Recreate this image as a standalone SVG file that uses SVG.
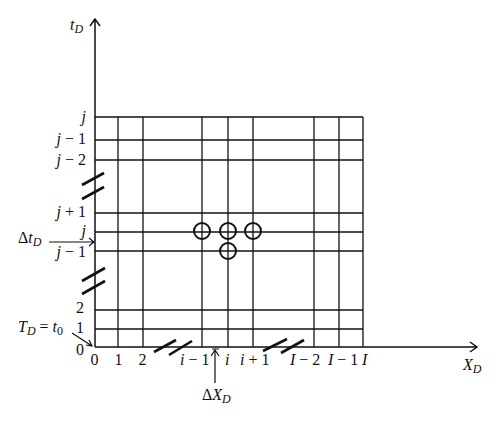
<svg xmlns="http://www.w3.org/2000/svg" width="500" height="423" viewBox="0 0 500 423">
<style>
text{font-family:"Liberation Serif","Times New Roman",serif;font-size:16px;fill:#111}
.it{font-style:italic}
.sub{font-size:12px;font-style:italic}
.grid line{stroke:#111;stroke-width:1.3}
.ax{stroke:#111;stroke-width:1.5;fill:none}
.brk line{stroke:#111;stroke-width:2.6}
.pt circle{fill:none;stroke:#111;stroke-width:2}
.arr{stroke:#111;stroke-width:1.2;fill:none}
</style>
<rect width="500" height="423" fill="#fff"/>
<g id="grid" class="grid">
<line x1="95" y1="117" x2="363" y2="117"/>
<line x1="95" y1="140" x2="363" y2="140"/>
<line x1="95" y1="160" x2="363" y2="160"/>
<line x1="95" y1="213" x2="363" y2="213"/>
<line x1="95" y1="232" x2="363" y2="232"/>
<line x1="95" y1="251" x2="363" y2="251"/>
<line x1="95" y1="310" x2="363" y2="310"/>
<line x1="95" y1="329" x2="363" y2="329"/>
<line x1="118" y1="117" x2="118" y2="347"/>
<line x1="143" y1="117" x2="143" y2="347"/>
<line x1="202" y1="117" x2="202" y2="347"/>
<line x1="228" y1="117" x2="228" y2="347"/>
<line x1="253" y1="117" x2="253" y2="347"/>
<line x1="314" y1="117" x2="314" y2="347"/>
<line x1="339" y1="117" x2="339" y2="347"/>
<line x1="363" y1="117" x2="363" y2="347"/>
</g>
<g id="axes">
<path class="ax" d="M95,347 V19 M90,26 L95,19 L100,26"/>
<path class="ax" d="M95,347 H477 M470,342 L477,347 L470,352"/>
</g>
<g id="breaks" class="brk">
<line x1="82" y1="185" x2="104" y2="173"/>
<line x1="82" y1="199" x2="104" y2="187"/>
<line x1="82" y1="281" x2="105" y2="268"/>
<line x1="82" y1="294" x2="105" y2="281"/>
<line x1="154" y1="352" x2="176" y2="340"/>
<line x1="169" y1="355" x2="192" y2="341"/>
<line x1="263" y1="351" x2="287" y2="339"/>
<line x1="281" y1="353" x2="304" y2="340"/>
</g>
<g id="points" class="pt">
<circle cx="202" cy="231" r="8"/>
<circle cx="228" cy="231" r="8"/>
<circle cx="253" cy="231" r="8"/>
<circle cx="228" cy="251" r="8"/>
</g>
<g id="connectors">
<path class="arr" d="M49,242 H94 M89,238 L94,242 L89,246"/>
<path class="arr" d="M72,333 L92,346 M86,345 L92,346 L89,340"/>
<path class="arr" d="M215,383 V350 M211,356 L215,350 L219,356 M212,349 H219"/>
</g>
<g id="labels">
<text x="70" y="30"><tspan class="it">t</tspan><tspan class="sub" dy="3">D</tspan></text>
<text x="463" y="370"><tspan class="it">X</tspan><tspan class="sub" dy="3">D</tspan></text>
<text x="86" y="122" text-anchor="end" class="it">j</text>
<text x="86" y="144" text-anchor="end"><tspan class="it">j</tspan> − 1</text>
<text x="86" y="165" text-anchor="end"><tspan class="it">j</tspan> − 2</text>
<text x="86" y="217" text-anchor="end"><tspan class="it">j</tspan> + 1</text>
<text x="86" y="236" text-anchor="end" class="it">j</text>
<text x="86" y="257" text-anchor="end"><tspan class="it">j</tspan> − 1</text>
<text x="18" y="243">Δ<tspan class="it">t</tspan><tspan class="sub" dy="3">D</tspan></text>
<text x="84" y="313" text-anchor="end">2</text>
<text x="84" y="333" text-anchor="end">1</text>
<text x="84" y="355" text-anchor="end">0</text>
<text x="18" y="332"><tspan class="it">T</tspan><tspan class="sub" dy="3">D</tspan><tspan dy="-3"> = </tspan><tspan class="it">t</tspan><tspan style="font-size:12px" dy="3">0</tspan></text>
<text x="94.5" y="365" text-anchor="middle">0</text>
<text x="118.5" y="365" text-anchor="middle">1</text>
<text x="142.5" y="365" text-anchor="middle">2</text>
<text x="180" y="365"><tspan class="it">i</tspan> − 1</text>
<text x="225" y="365" class="it">i</text>
<text x="240" y="365"><tspan class="it">i</tspan> + 1</text>
<text x="290" y="365"><tspan class="it">I</tspan> − 2</text>
<text x="328" y="365"><tspan class="it">I</tspan> − 1</text>
<text x="362" y="365" class="it">I</text>
<text x="202" y="400">Δ<tspan class="it">X</tspan><tspan class="sub" dy="3">D</tspan></text>
</g>
</svg>
